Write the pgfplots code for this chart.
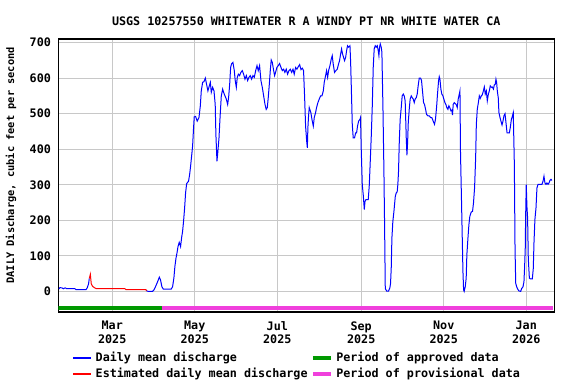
\documentclass[border=0pt]{standalone}
\usepackage{fontspec}
\setmainfont{DejaVu Sans Mono}
\usepackage{pgfplots}
\pgfplotsset{compat=1.18}
\definecolor{gridgray}{RGB}{200,200,200}
\definecolor{usgsblue}{RGB}{0,0,255}
\definecolor{usgsred}{RGB}{255,0,0}
\definecolor{apgreen}{RGB}{0,153,0}
\definecolor{provpink}{RGB}{240,64,220}
\newcommand{\lbl}{\fontsize{8.8}{10.2}\selectfont\bfseries}
\newcommand{\ylbl}{\fontsize{7.75}{9}\selectfont\bfseries}
\begin{document}
\begin{tikzpicture}
\useasboundingbox (0pt,0pt) rectangle (432pt,288pt);
\begin{axis}[
  at={(43.7pt,54pt)}, anchor=south west,
  scale only axis, width=372pt, height=204.75pt,
  xmin=19.1, xmax=385.7, ymin=-58, ymax=710,
  xtick={59,120,181,243,304,365},
  xticklabels={Mar\\2025, May\\2025, Jul\\2025, Sep\\2025, Nov\\2025, Jan\\2026},
  xticklabel style={align=center, font=\lbl, yshift=-3.5pt},
  ytick={0,100,200,300,400,500,600,700},
  yticklabel style={font=\lbl, xshift=-2pt},
  /pgf/number format/assume math mode=true,
  grid=major, major grid style={gridgray, line width=0.75pt},
  tick style={draw=none},
  axis line style={black, line width=1pt},
  title={USGS 10257550 WHITEWATER R A WINDY PT NR WHITE WATER CA},
  title style={font=\lbl, at={(axis description cs:0.5,1)}, anchor=center, yshift=7.5pt},
  ylabel={DAILY Discharge, cubic feet per second},
  ylabel style={font=\ylbl, at={(axis description cs:-0.0955,0.537)}, anchor=center},
  legend columns=2,
  legend cell align=left,
  legend style={at={(axis description cs:0.0282,-0.14)}, anchor=north west, draw=none, fill=none, font=\lbl, inner sep=0pt, row sep=1.5pt,
    nodes={inner xsep=2.5pt, inner ysep=1pt},
    /tikz/every even column/.append style={column sep=0pt}},
  legend image code/.code={\draw[#1] (0pt,0pt) -- (13.5pt,0pt);},
  clip=true,
]
\addlegendimage{color=usgsblue, draw=usgsblue, line width=1.4pt}
\addlegendentry{Daily mean discharge}
\addlegendimage{color=apgreen, draw=apgreen, line width=3pt}
\addlegendentry{Period of approved data}
\addlegendimage{color=usgsred, draw=usgsred, line width=1.2pt}
\addlegendentry{Estimated daily mean discharge}
\addlegendimage{color=provpink, draw=provpink, line width=3pt}
\addlegendentry{Period of provisional data}

% period bars
\addplot[forget plot, apgreen, line width=3.2pt] coordinates {(18,-46) (95.5,-46)};
\addplot[forget plot, provpink, line width=3.2pt] coordinates {(95.5,-46) (385,-46)};

% estimated (red)
\addplot[forget plot, usgsred, line width=0.75pt] coordinates {
(42.0,36) (42.8,48) (43.5,21) (44.5,14) (46.0,10) (47.4,7.5) (68.4,7.5) (69.1,4.7) (83.9,4.7) (84.4,1.5)
};

% daily mean (blue), part 1
\addplot[forget plot, usgsblue, line width=0.75pt] coordinates {
(19.6,6.6) (20.3,10.4) (21.8,10) (22.8,7.5) (24.3,10) (25.3,7.5) (31.4,7.5) (32.2,4.7) (39.6,4.7) (40.5,10) (41.5,21) (42.0,36)
};

% daily mean (blue), part 2
\addplot[forget plot, usgsblue, line width=0.75pt] coordinates {
(84.4,1.5) (85.6,0) (88.8,0) (89.8,4) (91.3,16) (92.5,27) (93.8,40) (94.7,32) (95.7,13) (96.7,6.6) (102.6,6.6) (103.6,13) (104.6,39) (105.3,70) (106.1,93) (106.8,107) (107.6,126) (108.5,138) (109.5,126) (110.3,152) (111.0,169) (111.7,197) (112.5,235) (113.2,277) (114.0,303) (115.4,310) (116.2,329) (116.9,352) (117.7,382) (118.4,409) (119.1,460) (119.6,491) (120.6,492) (121.8,479) (123.1,489) (124.1,522) (124.8,564) (125.8,588) (126.8,590) (127.8,600) (128.7,583) (129.7,564) (130.5,575) (131.5,588) (132.2,560) (133.2,574) (134.2,564) (135.1,526) (135.6,442) (136.4,366) (137.1,395) (137.9,432) (138.6,484) (139.6,550) (140.6,569) (141.3,560)
(142.3,550) (143.3,541) (144.3,526) (145.0,545) (145.8,583) (146.5,630) (147.2,640) (148.2,644) (149.2,621) (149.9,593) (150.7,574) (151.4,602) (152.2,611) (153.1,607) (154.1,616) (155.1,621) (156.1,611) (157.1,597) (158.1,607) (159.1,593) (160.0,602) (161.0,607) (162.0,597) (163.0,607) (164.0,602) (165.0,621) (166.0,635) (166.9,621) (167.9,635) (168.9,593) (169.9,574) (170.9,550) (171.9,526) (172.8,512) (173.6,517) (174.3,545) (175.1,583) (175.8,621) (176.5,651) (177.3,644) (178.3,621) (179.0,607) (179.7,616) (180.7,630) (181.7,635) (182.7,641) (183.7,630) (184.7,621) (185.7,625) (186.6,616) (187.6,625) (188.6,611) (189.6,621) (190.6,625) (191.6,616) (192.6,625) (193.5,611) (194.5,630) (195.5,625) (196.5,632) (197.5,638) (198.5,624) (199.5,628) (200.4,621) (201.2,545) (201.9,465) (202.7,423) (203.2,404) (203.6,460) (204.1,494) (204.6,517)
(205.8,503) (206.6,484) (207.6,465) (208.3,489) (209.3,503) (210.0,517) (211.0,531) (212.0,541) (213.0,550) (214.0,550) (215.0,564) (215.7,588) (216.7,607) (217.4,621) (218.2,602) (218.9,621) (219.9,635) (220.9,654) (221.6,663) (222.3,640) (223.3,616) (224.3,621) (225.3,625) (226.3,640) (227.0,649) (227.8,668) (228.5,682) (229.2,668) (230.0,658) (230.7,649) (231.5,658) (232.2,677) (232.9,691) (233.7,687) (234.7,691) (235.2,644) (235.9,545) (236.4,470) (237.1,432) (238.1,432) (238.9,446) (239.6,446) (240.3,465) (241.1,479) (242.1,484) (242.5,489) (243.0,404) (243.8,300) (244.5,272) (245.3,230) (245.8,253) (246.5,258) (248.2,258) (249.0,300) (249.7,366) (250.4,432) (251.2,522) (251.9,630) (252.6,682) (253.4,691) (254.1,687) (254.9,691) (255.6,677) (256.1,663) (256.6,687) (257.1,696) (257.8,687) (258.3,673) (259.1,512) (259.8,338) (260.3,183) (260.8,8) (261.8,1) (263.2,1) (264.2,10) (264.7,23) (265.2,65) (265.7,150) (266.4,197) (267.2,225)
(268.2,267) (268.9,277) (269.6,280) (270.1,301) (270.6,338) (271.1,414) (271.8,484) (272.6,517) (273.3,550) (274.1,555) (274.8,550) (275.5,536) (276.3,432) (276.8,383) (277.3,418) (277.8,475) (278.5,512) (279.2,541) (280.0,550) (280.7,545) (281.5,541) (282.2,531) (282.9,541) (283.7,545) (284.4,555) (285.1,578) (285.9,600) (286.9,600) (287.6,593) (288.4,560) (289.1,531) (289.8,526) (290.6,512) (291.3,498) (292.3,494) (293.3,494) (294.3,489) (295.2,489) (296.2,479) (297.2,470) (297.9,484) (298.7,517) (299.4,555) (300.2,593) (300.7,604) (301.2,597) (301.9,569) (302.6,555) (303.4,550) (304.1,541) (304.9,531) (305.6,526) (306.3,517) (307.1,512) (307.8,522) (308.5,517) (309.3,508) (310.0,510) (310.5,496) (311.0,526) (311.8,531) (312.5,528) (313.2,526) (314.0,517) (314.7,541) (315.5,555) (316.0,564) (316.4,390) (317.2,244) (317.7,150) (318.2,56) (318.7,4) (319.1,0) (319.9,13) (320.6,37) (321.1,103) (321.9,150) (322.6,187) (323.3,211) (324.3,223) (325.3,225) (326.0,249) (326.8,291)
(327.6,376) (328.1,470) (328.8,512) (329.6,531) (330.3,550) (331.0,543) (331.8,550) (332.5,553) (333.3,564) (334.0,575) (334.7,555) (335.5,564) (336.2,536) (337.0,555) (337.7,564) (338.4,578) (339.2,574) (339.9,575) (340.7,569) (341.4,581) (342.1,583) (342.6,597) (343.1,588) (343.6,564) (344.3,545) (344.8,503) (345.6,489) (346.3,479) (347.1,468) (347.8,479) (348.5,494) (349.3,500) (350.0,475) (350.8,446) (351.5,446) (352.5,446) (353.2,461) (354.0,484) (354.7,492) (355.4,503) (356.2,357) (356.7,122) (357.2,23) (357.9,13) (358.6,7) (359.6,1) (360.9,0) (361.6,8) (362.6,13) (363.3,27) (363.8,70) (364.3,126) (364.5,202) (365.0,300) (365.5,239) (366.0,206) (366.5,93) (367.3,37) (368.2,35) (369.5,35) (370.2,65) (370.7,136) (371.4,202) (372.2,235) (372.9,291) (373.7,301) (375.6,301) (376.6,301) (377.4,310) (378.1,324) (378.8,305) (379.6,301) (380.3,305) (381.1,301) (381.8,305) (382.5,312) (383.3,315) (384.0,312)
};
\end{axis}
\end{tikzpicture}
\end{document}
